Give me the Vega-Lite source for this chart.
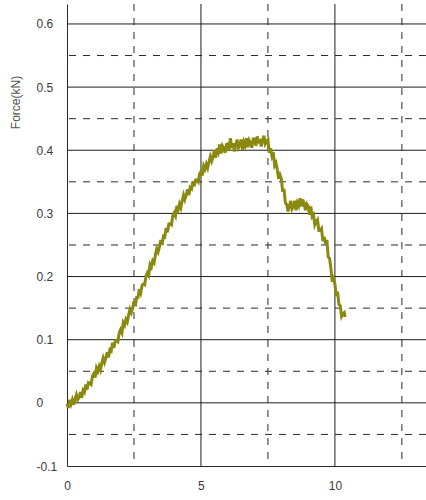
{
  "$schema": "https://vega.github.io/schema/vega-lite/v6.json",
  "autosize": "none",
  "width": 359,
  "height": 462,
  "padding": {"left": 67, "top": 4, "right": 0, "bottom": 34},
  "background": "white",
  "config": {"view": {"stroke": null}},
  "datasets": {
    "curve": [
      {"t": 0, "f": -0.001}, {"t": 0.05, "f": -0.008}, {"t": 0.1, "f": 0.005}, {"t": 0.15, "f": -0.002}, {"t": 0.2, "f": 0.005},
      {"t": 0.25, "f": -0.003}, {"t": 0.3, "f": 0.006}, {"t": 0.35, "f": 0.013}, {"t": 0.4, "f": 0.005}, {"t": 0.45, "f": 0.009},
      {"t": 0.5, "f": 0.017}, {"t": 0.55, "f": 0.008}, {"t": 0.6, "f": 0.020}, {"t": 0.65, "f": 0.017}, {"t": 0.7, "f": 0.029},
      {"t": 0.75, "f": 0.021}, {"t": 0.8, "f": 0.032}, {"t": 0.85, "f": 0.031}, {"t": 0.9, "f": 0.029}, {"t": 0.95, "f": 0.042},
      {"t": 1.0, "f": 0.046}, {"t": 1.05, "f": 0.040}, {"t": 1.1, "f": 0.055}, {"t": 1.15, "f": 0.050}, {"t": 1.2, "f": 0.058},
      {"t": 1.25, "f": 0.052}, {"t": 1.3, "f": 0.063}, {"t": 1.35, "f": 0.071}, {"t": 1.4, "f": 0.064}, {"t": 1.45, "f": 0.071},
      {"t": 1.5, "f": 0.080}, {"t": 1.55, "f": 0.072}, {"t": 1.6, "f": 0.084}, {"t": 1.65, "f": 0.082}, {"t": 1.7, "f": 0.095},
      {"t": 1.75, "f": 0.087}, {"t": 1.8, "f": 0.098}, {"t": 1.85, "f": 0.099}, {"t": 1.9, "f": 0.097}, {"t": 1.95, "f": 0.111},
      {"t": 2.0, "f": 0.116}, {"t": 2.05, "f": 0.111}, {"t": 2.1, "f": 0.127}, {"t": 2.15, "f": 0.123}, {"t": 2.2, "f": 0.132},
      {"t": 2.25, "f": 0.128}, {"t": 2.3, "f": 0.139}, {"t": 2.35, "f": 0.148}, {"t": 2.4, "f": 0.143}, {"t": 2.45, "f": 0.150},
      {"t": 2.5, "f": 0.161}, {"t": 2.55, "f": 0.153}, {"t": 2.6, "f": 0.167}, {"t": 2.65, "f": 0.167}, {"t": 2.7, "f": 0.180},
      {"t": 2.75, "f": 0.174}, {"t": 2.8, "f": 0.186}, {"t": 2.85, "f": 0.188}, {"t": 2.9, "f": 0.187}, {"t": 2.95, "f": 0.201},
      {"t": 3.0, "f": 0.206}, {"t": 3.05, "f": 0.202}, {"t": 3.1, "f": 0.219}, {"t": 3.15, "f": 0.215}, {"t": 3.2, "f": 0.225},
      {"t": 3.25, "f": 0.222}, {"t": 3.3, "f": 0.234}, {"t": 3.35, "f": 0.244}, {"t": 3.4, "f": 0.239}, {"t": 3.45, "f": 0.247},
      {"t": 3.5, "f": 0.258}, {"t": 3.55, "f": 0.250}, {"t": 3.6, "f": 0.264}, {"t": 3.65, "f": 0.263}, {"t": 3.7, "f": 0.277},
      {"t": 3.75, "f": 0.270}, {"t": 3.8, "f": 0.283}, {"t": 3.85, "f": 0.284}, {"t": 3.9, "f": 0.282}, {"t": 3.95, "f": 0.297},
      {"t": 4.0, "f": 0.301}, {"t": 4.05, "f": 0.296}, {"t": 4.1, "f": 0.312}, {"t": 4.15, "f": 0.306}, {"t": 4.2, "f": 0.315},
      {"t": 4.25, "f": 0.309}, {"t": 4.3, "f": 0.320}, {"t": 4.35, "f": 0.329}, {"t": 4.4, "f": 0.322}, {"t": 4.45, "f": 0.329},
      {"t": 4.5, "f": 0.338}, {"t": 4.55, "f": 0.329}, {"t": 4.6, "f": 0.341}, {"t": 4.65, "f": 0.339}, {"t": 4.7, "f": 0.351},
      {"t": 4.75, "f": 0.343}, {"t": 4.8, "f": 0.353}, {"t": 4.85, "f": 0.353}, {"t": 4.9, "f": 0.350}, {"t": 4.95, "f": 0.363},
      {"t": 5.0, "f": 0.366}, {"t": 5.05, "f": 0.360}, {"t": 5.1, "f": 0.375}, {"t": 5.15, "f": 0.370}, {"t": 5.2, "f": 0.378},
      {"t": 5.25, "f": 0.372}, {"t": 5.3, "f": 0.382}, {"t": 5.35, "f": 0.390}, {"t": 5.4, "f": 0.383}, {"t": 5.45, "f": 0.390},
      {"t": 5.5, "f": 0.400}, {"t": 5.55, "f": 0.388}, {"t": 5.6, "f": 0.403}, {"t": 5.65, "f": 0.397}, {"t": 5.7, "f": 0.409},
      {"t": 5.75, "f": 0.395}, {"t": 5.8, "f": 0.407}, {"t": 5.85, "f": 0.403}, {"t": 5.9, "f": 0.396}, {"t": 5.95, "f": 0.409},
      {"t": 6.0, "f": 0.410}, {"t": 6.05, "f": 0.399}, {"t": 6.1, "f": 0.419}, {"t": 6.15, "f": 0.404}, {"t": 6.2, "f": 0.411},
      {"t": 6.25, "f": 0.398}, {"t": 6.3, "f": 0.409}, {"t": 6.35, "f": 0.417}, {"t": 6.4, "f": 0.404}, {"t": 6.45, "f": 0.408},
      {"t": 6.5, "f": 0.417}, {"t": 6.55, "f": 0.401}, {"t": 6.6, "f": 0.413}, {"t": 6.65, "f": 0.407}, {"t": 6.7, "f": 0.419},
      {"t": 6.75, "f": 0.405}, {"t": 6.8, "f": 0.416}, {"t": 6.85, "f": 0.412}, {"t": 6.9, "f": 0.404}, {"t": 6.95, "f": 0.418},
      {"t": 7.0, "f": 0.418}, {"t": 7.05, "f": 0.407}, {"t": 7.1, "f": 0.422}, {"t": 7.15, "f": 0.411}, {"t": 7.2, "f": 0.418},
      {"t": 7.25, "f": 0.406}, {"t": 7.3, "f": 0.416}, {"t": 7.35, "f": 0.423}, {"t": 7.4, "f": 0.410}, {"t": 7.45, "f": 0.414},
      {"t": 7.5, "f": 0.417}, {"t": 7.55, "f": 0.396}, {"t": 7.6, "f": 0.403}, {"t": 7.65, "f": 0.391}, {"t": 7.7, "f": 0.397},
      {"t": 7.75, "f": 0.376}, {"t": 7.8, "f": 0.380}, {"t": 7.85, "f": 0.369}, {"t": 7.9, "f": 0.355}, {"t": 7.95, "f": 0.361},
      {"t": 8.0, "f": 0.355}, {"t": 8.05, "f": 0.334}, {"t": 8.1, "f": 0.339}, {"t": 8.15, "f": 0.317}, {"t": 8.2, "f": 0.314},
      {"t": 8.25, "f": 0.303}, {"t": 8.3, "f": 0.312}, {"t": 8.35, "f": 0.320}, {"t": 8.4, "f": 0.307}, {"t": 8.45, "f": 0.311},
      {"t": 8.5, "f": 0.320}, {"t": 8.55, "f": 0.305}, {"t": 8.6, "f": 0.317}, {"t": 8.65, "f": 0.312}, {"t": 8.7, "f": 0.324},
      {"t": 8.75, "f": 0.311}, {"t": 8.8, "f": 0.322}, {"t": 8.85, "f": 0.315}, {"t": 8.9, "f": 0.305}, {"t": 8.95, "f": 0.315},
      {"t": 9.0, "f": 0.312}, {"t": 9.05, "f": 0.298}, {"t": 9.1, "f": 0.311}, {"t": 9.15, "f": 0.295}, {"t": 9.2, "f": 0.298},
      {"t": 9.25, "f": 0.282}, {"t": 9.3, "f": 0.287}, {"t": 9.35, "f": 0.290}, {"t": 9.4, "f": 0.273}, {"t": 9.45, "f": 0.273},
      {"t": 9.5, "f": 0.276}, {"t": 9.55, "f": 0.256}, {"t": 9.6, "f": 0.263}, {"t": 9.65, "f": 0.251}, {"t": 9.7, "f": 0.258},
      {"t": 9.75, "f": 0.231}, {"t": 9.8, "f": 0.229}, {"t": 9.85, "f": 0.213}, {"t": 9.9, "f": 0.192}, {"t": 9.95, "f": 0.197},
      {"t": 10.0, "f": 0.188}, {"t": 10.05, "f": 0.169}, {"t": 10.1, "f": 0.176}, {"t": 10.15, "f": 0.156}, {"t": 10.2, "f": 0.154},
      {"t": 10.25, "f": 0.137}, {"t": 10.3, "f": 0.141}, {"t": 10.35, "f": 0.143}, {"t": 10.38, "f": 0.136}
    ],
    "vmajor": [{"v": 5}, {"v": 10}],
    "vminor": [{"v": 2.5}, {"v": 7.5}, {"v": 12.5}],
    "hmajor": [{"v": 0}, {"v": 0.1}, {"v": 0.2}, {"v": 0.3}, {"v": 0.4}, {"v": 0.5}, {"v": 0.6}],
    "hminor": [{"v": -0.05}, {"v": 0.05}, {"v": 0.15}, {"v": 0.25}, {"v": 0.35}, {"v": 0.45}, {"v": 0.55}]
  },
  "layer": [
    {
      "data": {"name": "vminor"},
      "mark": {"type": "rule", "color": "#2a2a2a", "strokeWidth": 1, "strokeDash": [7, 7]},
      "encoding": {
        "x": {"field": "v", "type": "quantitative", "scale": {"domain": [0, 13.4], "nice": false, "zero": false},
          "axis": {"values": [0, 5, 10], "labelExpr": "'' + datum.value", "grid": false, "ticks": false, "domainColor": "#2a2a2a", "labelFont": "Liberation Sans", "labelFontSize": 12, "labelColor": "#3a3a3a", "labelPadding": 14, "title": null, "labelFlush": false}}
      }
    },
    {
      "data": {"name": "hminor"},
      "mark": {"type": "rule", "color": "#2a2a2a", "strokeWidth": 1, "strokeDash": [7, 7]},
      "encoding": {
        "y": {"field": "v", "type": "quantitative", "scale": {"domain": [-0.1, 0.6316], "nice": false, "zero": false},
          "axis": {"values": [-0.1, 0, 0.1, 0.2, 0.3, 0.4, 0.5, 0.6], "labelExpr": "'' + datum.value", "grid": false, "ticks": false, "tickSize": 0, "domainColor": "#2a2a2a", "labelFont": "Liberation Sans", "labelFontSize": 12, "labelColor": "#3a3a3a", "labelAlign": "left", "labelPadding": 31, "labelFlush": false,
            "title": "Force(kN)", "titleFont": "Liberation Sans", "titleFontSize": 12, "titleFontWeight": "normal", "titleColor": "#555555", "titleX": -45, "titleY": 98, "titleAngle": -90}}
      }
    },
    {
      "data": {"name": "vmajor"},
      "mark": {"type": "rule", "color": "#1e1e1e", "strokeWidth": 1},
      "encoding": {"x": {"field": "v", "type": "quantitative"}}
    },
    {
      "data": {"name": "hmajor"},
      "mark": {"type": "rule", "color": "#1e1e1e", "strokeWidth": 1},
      "encoding": {"y": {"field": "v", "type": "quantitative"}}
    },
    {
      "data": {"name": "curve"},
      "mark": {"type": "line", "color": "#8a8a10", "strokeWidth": 3},
      "encoding": {
        "x": {"field": "t", "type": "quantitative"},
        "y": {"field": "f", "type": "quantitative"}
      }
    }
  ]
}
